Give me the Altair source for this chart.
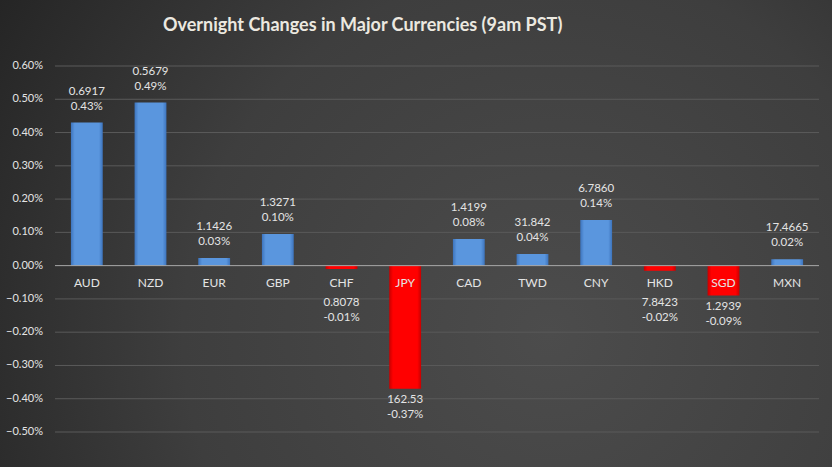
import altair as alt
import pandas as pd

title_text = "Overnight Changes in Major Currencies (9am PST)"
currencies = ["AUD", "NZD", "EUR", "GBP", "CHF", "JPY", "CAD", "TWD", "CNY", "HKD", "SGD", "MXN"]
changes = [0.0043, 0.0049, 0.00023, 0.00095, -0.0001, -0.0037, 0.0008, 0.00035, 0.00137, -0.00015, -0.0009, 0.00019]
prices = ["0.6917", "0.5679", "1.1426", "1.3271", "0.8078", "162.53", "1.4199", "31.842", "6.7860", "7.8423", "1.2939", "17.4665"]
pct_labels = ["0.43%", "0.49%", "0.03%", "0.10%", "-0.01%", "-0.37%", "0.08%", "0.04%", "0.14%", "-0.02%", "-0.09%", "0.02%"]
y_ticks = [0.006, 0.005, 0.004, 0.003, 0.002, 0.001, 0.0, -0.001, -0.002, -0.003, -0.004, -0.005]

df = pd.DataFrame({"cur": currencies, "v": changes, "price": prices, "pct": pct_labels})
ticks_df = pd.DataFrame({"t": y_ticks})

W, H = 764, 366
PL, PT, PR, PB = 55, 66, 13, 35
FONT = "Lato"
TXT = "#e4e4e4"

xenc = alt.X("cur:N", sort=currencies, axis=None,
             scale=alt.Scale(paddingInner=0.5, paddingOuter=0.25))
yscale = alt.Scale(domain=[-0.005, 0.006], nice=False)


def yv(field):
    return alt.Y(field, scale=yscale, axis=None)


bg = alt.Chart(pd.DataFrame({"k": [0]})).mark_rect(
    fill={"gradient": "radial", "x1": 0.66, "y1": 0.62, "r1": 0.0,
          "x2": 0.66, "y2": 0.62, "r2": 0.8,
          "stops": [{"offset": 0, "color": "#4c4c4c"},
                    {"offset": 0.55, "color": "#3e3e3e"},
                    {"offset": 1, "color": "#232323"}]}
).encode(x=alt.value(-PL), x2=alt.value(W + PR), y=alt.value(-PT), y2=alt.value(H + PB))

gridlines = alt.Chart(ticks_df).transform_filter("datum.t != 0").mark_rule(
    color="#5a5a5a", strokeWidth=1).encode(
    y=yv("t:Q"), x=alt.value(0), x2=alt.value(W))

ylabels = alt.Chart(ticks_df).transform_calculate(
    lab="format(datum.t, '.2%')").mark_text(
    font=FONT, fontSize=11, color=TXT, align="right", baseline="middle").encode(
    y=yv("t:Q"), x=alt.value(-12), text="lab:N")

blue = {"gradient": "linear", "x1": 0, "y1": 0, "x2": 1, "y2": 0,
        "stops": [{"offset": 0, "color": "#3d74bd"}, {"offset": 0.12, "color": "#5a96de"},
                  {"offset": 0.88, "color": "#5a96de"}, {"offset": 1, "color": "#3d74bd"}]}
red = {"gradient": "linear", "x1": 0, "y1": 0, "x2": 1, "y2": 0,
       "stops": [{"offset": 0, "color": "#c80000"}, {"offset": 0.12, "color": "#ff0000"},
                 {"offset": 0.88, "color": "#ff0000"}, {"offset": 1, "color": "#c80000"}]}

pos_bars = alt.Chart(df).transform_filter("datum.v > 0").mark_bar(fill=blue).encode(
    x=xenc, y=yv("v:Q"), y2=alt.datum(0))
neg_bars = alt.Chart(df).transform_filter("datum.v < 0").mark_bar(fill=red).encode(
    x=xenc, y=yv("v:Q"), y2=alt.datum(0))

zero = alt.Chart(pd.DataFrame({"z": [0.0]})).mark_rule(color="#a8a8a8", strokeWidth=1).encode(
    y=yv("z:Q"), x=alt.value(0), x2=alt.value(W))

cat = alt.Chart(df).mark_text(font=FONT, fontSize=12, color=TXT, baseline="middle", dy=17.5).encode(
    x=xenc, y=alt.datum(0, scale=yscale, axis=None), text="cur:N")

tstyle = dict(font=FONT, fontSize=11.5, color=TXT, baseline="middle")
pos_price = alt.Chart(df).transform_filter("datum.v > 0").mark_text(dy=-31, **tstyle).encode(
    x=xenc, y=yv("v:Q"), text="price:N")
pos_pct = alt.Chart(df).transform_filter("datum.v > 0").mark_text(dy=-16, **tstyle).encode(
    x=xenc, y=yv("v:Q"), text="pct:N")
neg_price = alt.Chart(df).transform_filter("datum.v < 0").transform_calculate(
    a="min(datum.v, -0.0008)").mark_text(dy=11, **tstyle).encode(
    x=xenc, y=yv("a:Q"), text="price:N")
neg_pct = alt.Chart(df).transform_filter("datum.v < 0").transform_calculate(
    a="min(datum.v, -0.0008)").mark_text(dy=26, **tstyle).encode(
    x=xenc, y=yv("a:Q"), text="pct:N")

title = alt.Chart(pd.DataFrame({"title": [title_text]})).mark_text(
    font=FONT, fontSize=18, fontWeight="bold", color="#ece9e0", align="left", baseline="middle"
).encode(x=alt.value(108), y=alt.value(-40), text="title:N")

chart = alt.layer(bg, gridlines, ylabels, pos_bars, neg_bars, zero, cat, pos_price, pos_pct,
                  neg_price, neg_pct, title).properties(
    width=W, height=H,
    autosize=alt.AutoSizeParams(type="none"),
    padding={"left": PL, "top": PT, "right": PR, "bottom": PB},
    background="#333333",
).configure_view(stroke=None)

chart.save("out.html", embed_options={"renderer": "svg", "actions": False})
